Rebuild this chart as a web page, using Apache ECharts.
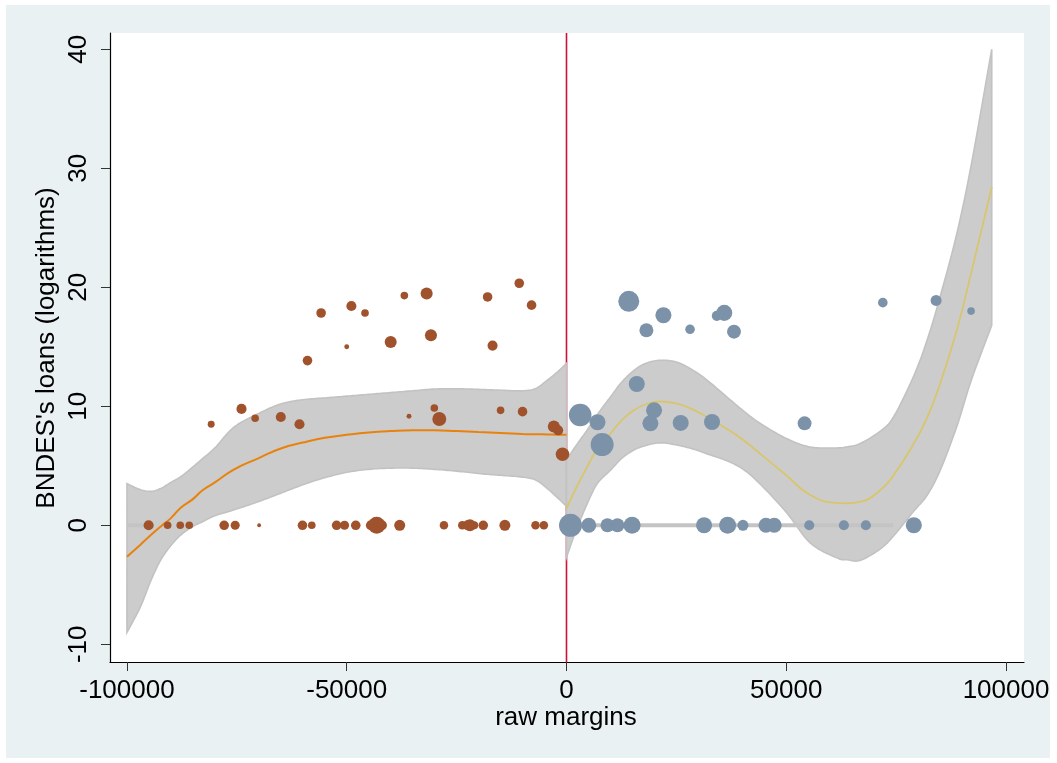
<!DOCTYPE html>
<html>
<head>
<meta charset="utf-8">
<script src="https://cdn.jsdelivr.net/npm/echarts@6/dist/echarts.min.js"></script>
<style>
html,body{margin:0;padding:0;background:#fff;}
#bg{position:absolute;left:6px;top:5px;width:1044px;height:753px;background:#e9f1f3;}
#chart{position:absolute;left:0;top:0;width:1057px;height:763px;}
</style>
</head>
<body>
<div id="bg"></div>
<div id="chart"></div>
<script>
// ---- axis ticks ----
const xTicks = [-100000, -50000, 0, 50000, 100000];
const yTicks = [-10, 0, 10, 20, 30, 40];
const xMin = -103860, xMax = 104090;
const yMin = -11.49, yMax = 41.37;

// ---- scatter: left of cutoff (x, y, weight) ----
const leftX = [-80840,-73940,-70840,-65000,-60750,-58930,-55830,-50000,-48940,-45840,-40000,-36890,-31820,-30840,-35830,-30070,-28940,-17950,-16820,-15000,-10750,-10000,-7950,-2880,-1890,-910,
  -95070,-90750,-87880,-85830,-77880,-75380,-69930,-60070,-57950,-52300,-50500,-47950,-44500,-43180,-42000,-37950,-27880,-23710,-22500,-21970,-21000,-18940,-14020,-7050,-5150];
const leftY = [8.49,9.78,8.99,9.1,8.49,13.84,17.84,15.0,18.43,17.84,15.4,19.3,19.47,15.97,9.16,9.86,8.93,19.19,15.1,9.66,20.34,9.55,18.5,8.3,7.98,5.97,
  0,0,0,0,0,0,0,0,0,0,0,0,0,0,0,0,0,0,0,0,0,0,0,0,0];
const leftW = [10,21,12,21,21,19,19,5,21,12,30,12,30,30,5,12,40,19,21,12,19,19,19,30,21,38,
  21,12,12,12,19,17,3,19,12,19,17,19,21,60,21,25,15,15,21,30,13,19,25,15,15];

// ---- scatter: right of cutoff (x, y, weight) ----
const rightX = [14170,22050,18180,28110,34200,35900,38110,71970,84090,92050,15990,3110,7050,8110,19920,19090,25980,33110,54170,
  910,5080,9320,11590,14920,31300,36660,40150,45380,47270,55230,63110,68110,79020];
const rightY = [18.82,17.65,16.39,16.47,17.6,17.85,16.27,18.71,18.9,18.0,11.87,9.27,8.66,6.78,9.66,8.57,8.6,8.68,8.57,
  0,0,0,0,0,0,0,0,0,0,0,0,0,0,0];
const rightW = [91,53,40,19,21,53,40,19,25,12,53,105,53,109,53,53,53,53,40,
  109,46,40,40,60,53,60,25,46,46,21,21,21,53];

// ---- fitted polynomial and confidence band, left ----
const fitLX = [-100000,-97000,-94500,-92300,-90000,-87700,-85000,-82800,-80000,-75600,-70000,-65000,-60000,-55000,-50000,-45000,-40000,-35000,-30000,-25000,-20000,-15000,-10000,-7000,-4400,-2000,0];
const fitLMean = [-2.65,-1.65,-0.8,-0.1,0.6,1.5,2.2,2.95,3.6,4.7,5.65,6.45,6.95,7.35,7.6,7.8,7.92,7.98,7.98,7.92,7.84,7.76,7.68,7.65,7.63,7.61,7.6];
const fitLHi = [3.5,3.0,2.85,3.1,3.6,4.1,4.9,5.6,6.5,8.26,9.4,10.2,10.55,10.7,10.85,11.0,11.15,11.3,11.45,11.47,11.42,11.35,11.3,11.5,12.18,12.9,13.6];
const fitLLo = [-9.0,-6.9,-4.6,-2.9,-1.7,-0.8,-0.1,0.3,0.8,1.3,2.0,2.7,3.4,4.0,4.45,4.7,4.8,4.8,4.7,4.55,4.35,4.2,4.05,3.8,3.1,2.3,1.6];

// ---- fitted polynomial and confidence band, right ----
const fitRX = [0,2000,4700,7000,10000,12500,15300,18000,21360,25150,28900,31970,36500,40300,44100,50000,55450,61500,64000,66800,71360,74400,78900,82000,85000,88800,92200,96750];
const fitRMean = [1.4,3.0,4.9,6.4,7.7,8.8,9.66,10.15,10.4,10.22,9.7,9.1,8.1,7.14,6.0,4.2,2.55,1.88,1.85,1.96,2.94,4.2,6.8,9.0,11.9,16.4,21.4,28.4];
const fitRHi = [5.5,6.6,8.0,9.3,10.78,12.0,13.0,13.6,13.87,13.7,13.0,12.2,10.78,9.6,8.55,7.3,6.58,6.5,6.6,6.87,7.9,9.1,12.46,15.5,19.2,24.5,30.5,40.0];
const fitRLo = [-2.7,-0.6,1.8,3.5,4.62,5.6,6.32,6.7,6.93,6.74,6.4,6.0,5.42,4.68,3.45,1.1,-1.48,-2.74,-2.9,-2.95,-2.0,-0.9,1.14,2.5,4.6,8.3,12.3,16.8];

// ---- zero line segments ----
const zeroLX = [-100000, -96000];
const zeroRX = [0, 74300];

const FONT = "'Liberation Sans', Arial, sans-serif";

// smooth a pixel polyline (Catmull-Rom) for drawing the band outline, like line smoothing
function smoothPixels(p) {
  const out = [];
  const n = p.length;
  for (let i = 0; i < n - 1; i++) {
    const p0 = p[Math.max(i - 1, 0)], p1 = p[i], p2 = p[i + 1], p3 = p[Math.min(i + 2, n - 1)];
    const c1 = [p1[0] + (p2[0] - p0[0]) / 6, p1[1] + (p2[1] - p0[1]) / 6];
    const c2 = [p2[0] - (p3[0] - p1[0]) / 6, p2[1] - (p3[1] - p1[1]) / 6];
    const steps = 10;
    for (let s = 0; s < steps; s++) {
      const t = s / steps, u = 1 - t;
      out.push([
        u*u*u*p1[0] + 3*u*u*t*c1[0] + 3*u*t*t*c2[0] + t*t*t*p2[0],
        u*u*u*p1[1] + 3*u*u*t*c1[1] + 3*u*t*t*c2[1] + t*t*t*p2[1]
      ]);
    }
  }
  out.push(p[n - 1]);
  return out;
}

function band(xs, lo, hi, z) {
  return {
    type: 'custom', z: z, silent: true, clip: true,
    data: [[xs[0], lo[0]]],
    renderItem: function (params, api) {
      const up = smoothPixels(xs.map((x, i) => api.coord([x, hi[i]])));
      const dn = smoothPixels(xs.map((x, i) => api.coord([x, lo[i]])));
      const pts = up.concat(dn.reverse());
      return { type: 'polygon', shape: { points: pts }, style: { fill: '#cccccc', stroke: '#c2c2c2', lineWidth: 1.6 } };
    }
  };
}
function zip(xs, ys) { return xs.map((x, i) => [x, ys[i]]); }

const chart = echarts.init(document.getElementById('chart'), null, { renderer: 'canvas' });
chart.setOption({
  animation: false,
  backgroundColor: 'transparent',
  grid: { left: 110, right: 33, top: 33, bottom: 101, show: true, backgroundColor: '#ffffff', borderWidth: 0 },
  xAxis: {
    type: 'value', min: xMin, max: xMax,
    splitLine: { show: false },
    axisLine: { show: true, onZero: false, lineStyle: { color: '#000', width: 1.2 } },
    axisTick: { show: true, length: 9, customValues: xTicks, lineStyle: { color: '#333', width: 1 } },
    axisLabel: { customValues: xTicks, fontSize: 26, color: '#000', margin: 16, fontFamily: FONT,
      formatter: v => String(v) }
  },
  yAxis: {
    type: 'value', min: yMin, max: yMax,
    splitLine: { show: false },
    axisLine: { show: true, onZero: false, lineStyle: { color: '#000', width: 1.2 } },
    axisTick: { show: true, length: 9, customValues: yTicks, lineStyle: { color: '#333', width: 1 } },
    axisLabel: { customValues: yTicks, fontSize: 26, color: '#000', margin: 18, rotate: 90, fontFamily: FONT,
      formatter: v => String(v) }
  },
  graphic: [
    { type: 'text', x: 47, y: 348, rotation: Math.PI / 2, z: 100,
      style: { text: "BNDES's loans (logarithms)", fontSize: 26, fontFamily: FONT, fill: '#000', align: 'center', verticalAlign: 'middle' } },
    { type: 'text', x: 566, y: 718, z: 100,
      style: { text: 'raw margins', fontSize: 26, fontFamily: FONT, fill: '#000', align: 'center', verticalAlign: 'middle' } }
  ],
  series: [
    { type: 'line', z: 1, silent: true, showSymbol: false, data: [[0, yMin], [0, yMax]], lineStyle: { color: '#cc1236', width: 1.6 } },
    band(fitLX, fitLLo, fitLHi, 2),
    band(fitRX, fitRLo, fitRHi, 2),
    { type: 'line', z: 3, silent: true, showSymbol: false, data: zip(zeroLX, [0, 0]), lineStyle: { color: '#c4c4c4', width: 4 } },
    { type: 'line', z: 3, silent: true, showSymbol: false, data: zip(zeroRX, [0, 0]), lineStyle: { color: '#c4c4c4', width: 4 } },
    { type: 'line', z: 4, silent: true, showSymbol: false, smooth: true, data: zip(fitLX, fitLMean), lineStyle: { color: '#e8820c', width: 2 } },
    { type: 'line', z: 4, silent: true, showSymbol: false, smooth: true, data: zip(fitRX, fitRMean), lineStyle: { color: '#d8c66c', width: 1.8 } },
    { type: 'scatter', z: 5, data: leftX.map((x, i) => [x, leftY[i], leftW[i]]),
      symbolSize: v => 2.2 * Math.sqrt(v[2]), itemStyle: { color: '#a0522d', opacity: 1 } },
    { type: 'scatter', z: 5, data: rightX.map((x, i) => [x, rightY[i], rightW[i]]),
      symbolSize: v => 2.2 * Math.sqrt(v[2]), itemStyle: { color: '#7b92a9', opacity: 1 } }
  ]
});
</script>
</body>
</html>
